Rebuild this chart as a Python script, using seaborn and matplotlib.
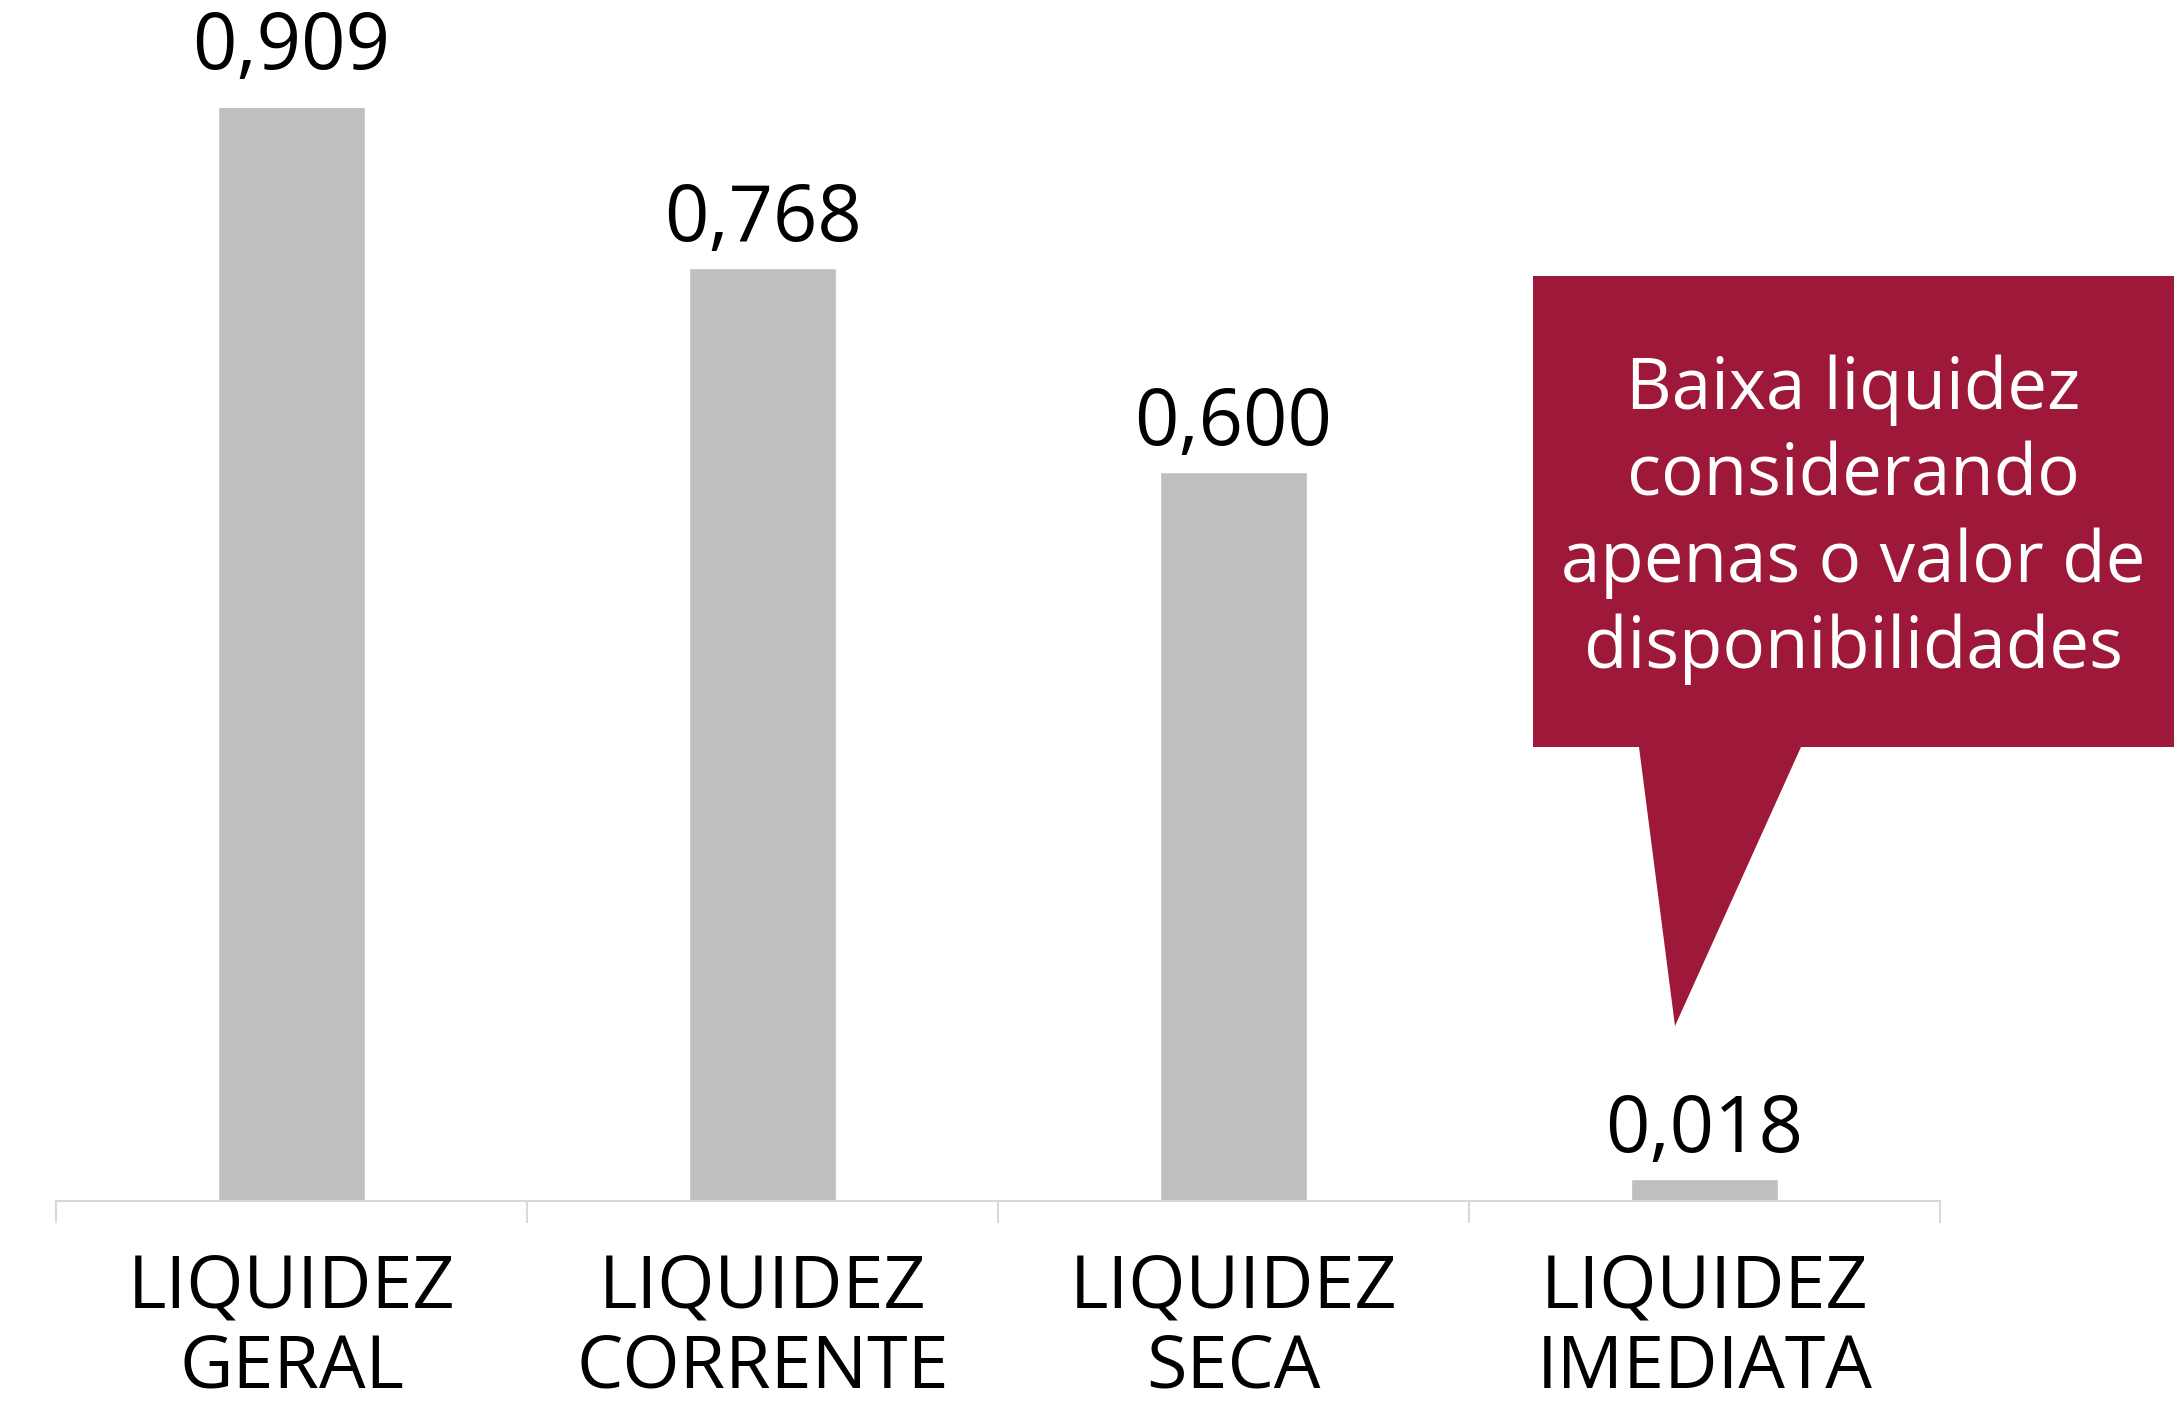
import matplotlib
matplotlib.use('Agg')
import matplotlib.pyplot as plt
from matplotlib.patches import Polygon
import seaborn as sns

# dados do gráfico
categorias = ["LIQUIDEZ\nGERAL", "LIQUIDEZ\nCORRENTE", "LIQUIDEZ\nSECA", "LIQUIDEZ\nIMEDIATA"]
valores = [0.909, 0.768, 0.600, 0.018]
rotulos = ["0,909", "0,768", "0,600", "0,018"]
nota = "Baixa liquidez\nconsiderando\napenas o valor de\ndisponibilidades"

sns.set_theme(style="white")
plt.rcParams['font.family'] = ['Open Sans', 'DejaVu Sans']

W, H = 2182, 1406
fig = plt.figure(figsize=(W / 100, H / 100), dpi=100)
ax = fig.add_axes([56 / W, 1 - 1201 / H, (1940 - 56) / W, 0.9 * 1215 / H])

sns.barplot(x=categorias, y=valores, color="#BFBFBF", saturation=1, width=0.31, ax=ax)
ax.set_ylim(0, 0.9)
ax.set_xlim(-0.5, len(categorias) - 0.5)

for i, (v, r) in enumerate(zip(valores, rotulos)):
    ax.annotate(r, (i, v), xytext=(0, 6), textcoords="offset points",
                ha="center", va="bottom", fontsize=56, color="black", annotation_clip=False)

for s in ["left", "top", "right"]:
    ax.spines[s].set_visible(False)
ax.spines["bottom"].set_color("#D9D9D9")
ax.spines["bottom"].set_linewidth(1.5)
ax.set_yticks([])
ax.set_xlabel("")
ax.set_ylabel("")
ax.set_xticks(range(len(categorias)))
ax.set_xticklabels(categorias, fontsize=53, linespacing=1.12)
ax.tick_params(axis="x", which="major", bottom=False, length=0, pad=36, colors="black")
ax.set_xticks([i - 0.5 for i in range(len(categorias) + 1)], minor=True)
ax.tick_params(axis="x", which="minor", bottom=True, length=16, width=1.5, color="#D9D9D9", direction="out")

# balão de destaque
cor = "#9D1839"
pts = [(1533, 276), (2174, 276), (2174, 747), (1801, 747), (1675, 1026), (1639, 747), (1533, 747)]
balao = Polygon([(x / W, 1 - y / H) for x, y in pts], closed=True, transform=fig.transFigure,
                facecolor=cor, edgecolor="none")
fig.patches.append(balao)
fig.text(1853 / W, 1 - 520 / H, nota, ha="center", va="center", color="white",
         fontsize=51, linespacing=1.27)

fig.savefig("out.png", dpi=100)
